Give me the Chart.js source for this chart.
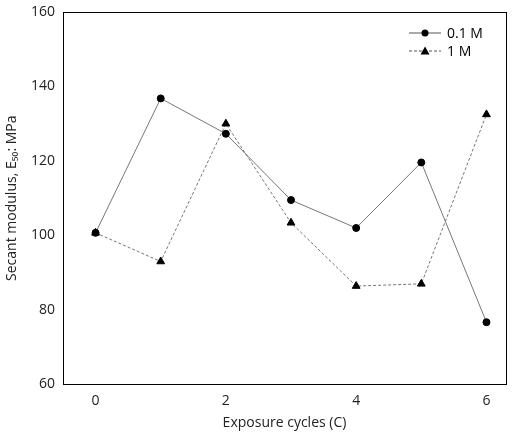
<!DOCTYPE html>
<html><head><meta charset="utf-8">
<script src="https://cdn.jsdelivr.net/npm/chart.js@4"></script>
<style>html,body{margin:0;padding:0;background:#fff}#w{width:520px;height:435px}</style>
</head><body><div id="w"><canvas id="c"></canvas></div>
<script>
const cycles = [0,1,2,3,4,5,6];
const s01 = [100.7,136.8,127.3,109.5,102,119.6,76.7];
const s1 = [100.7,93,130,103.4,86.4,87,132.5];
const seriesNames = ['0.1 M','1 M'];
const xTicks = [0,1,2,3,4,5,6];
const yTicks = [60,80,100,120,140,160];
const F = '"Open Sans", sans-serif';
const legendPlugin = {
  id:'lg',
  afterDraw(ch){
    const c=ch.ctx, a=ch.chartArea;
    const items=[{n:seriesNames[0],d:[],s:'circle'},{n:seriesNames[1],d:[3,2],s:'triangle'}];
    items.forEach((it,i)=>{
      const y=a.top+21+i*18, x0=a.right-97;
      c.save();c.strokeStyle='#555';c.lineWidth=1;c.setLineDash(it.d);
      c.beginPath();c.moveTo(x0,y);c.lineTo(x0+32,y);c.stroke();c.setLineDash([]);
      c.fillStyle='#000';c.beginPath();
      if(it.s==='circle'){c.arc(x0+16,y,3.5,0,Math.PI*2);}else{c.moveTo(x0+16,y-4.5);c.lineTo(x0+20.5,y+3.5);c.lineTo(x0+11.5,y+3.5);c.closePath();}
      c.fill();
      c.font='14px '+F;c.textBaseline='middle';c.fillText(it.n,x0+38,y+1);c.restore();
    });
  }
};
new Chart(document.getElementById('c'),{
  type:'line',
  data:{datasets:[
    {label:seriesNames[0],data:cycles.map((x,i)=>({x,y:s01[i]})),borderColor:'#777',borderWidth:1,pointStyle:'circle',pointRadius:3.5,pointBackgroundColor:'#000',pointBorderColor:'#000',tension:0},
    {label:seriesNames[1],data:cycles.map((x,i)=>({x,y:s1[i]})),borderColor:'#777',borderWidth:1,borderDash:[3,2],pointStyle:'triangle',pointRadius:4.5,pointBackgroundColor:'#000',pointBorderColor:'#000',tension:0}
  ]},
  plugins:[legendPlugin],
  options:{responsive:true,maintainAspectRatio:false,animation:false,
    layout:{padding:{top:12,right:14,left:0,bottom:0}},
    plugins:{legend:{display:false},tooltip:{enabled:false}},
    scales:{
      x:{type:'linear',min:-0.5,max:6.3,
        afterBuildTicks(s){s.ticks=xTicks.map(v=>({value:v}));},
        grid:{display:false,drawTicks:true,tickLength:5,tickColor:'#000'},
        border:{color:'#000',width:1},
        ticks:{color:'#222',font:{family:F,size:14},padding:3,callback:v=>v%2===0?v:''},
        title:{display:true,text:'Exposure cycles (C)',color:'#222',font:{family:F,size:14},padding:{top:2}}},
      y:{min:60,max:160,
        afterBuildTicks(s){s.ticks=yTicks.map(v=>({value:v}));},
        afterFit(s){s.width=63;},
        grid:{display:false,drawTicks:true,tickLength:5,tickColor:'#000'},
        border:{color:'#000',width:1},
        ticks:{color:'#222',font:{family:F,size:14},padding:3},
        title:{display:true,text:'Secant modulus, E₅₀: MPa',color:'#222',font:{family:F,size:14},padding:{bottom:1}}},
      x2:{position:'top',type:'linear',min:-0.5,max:6.3,grid:{display:false,drawTicks:false},border:{color:'#000'},ticks:{display:false}},
      y2:{position:'right',min:60,max:160,grid:{display:false,drawTicks:false},border:{color:'#000'},ticks:{display:false}}
    }}
});
</script></body></html>
